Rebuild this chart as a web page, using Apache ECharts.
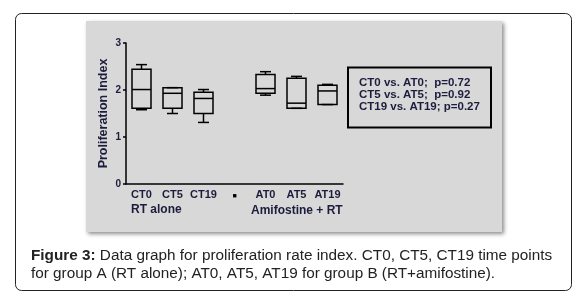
<!DOCTYPE html>
<html>
<head>
<meta charset="utf-8">
<script src="https://cdn.jsdelivr.net/npm/echarts@6/dist/echarts.min.js"></script>
<style>
html,body{margin:0;padding:0;background:#fff;}
#chart{width:582px;height:301px;}
</style>
</head>
<body>
<div id="chart"></div>
<script>
var categories = ['CT0', 'CT5', 'CT19', '', 'AT0', 'AT5', 'AT19'];
// [min, q1, median, q3, max]
var boxStats = [
  [1.58, 1.61, 2.01, 2.44, 2.54],
  [1.50, 1.61, 1.93, 2.05, 2.05],
  [1.31, 1.50, 1.82, 1.95, 2.01],
  null,
  [1.89, 1.93, 2.03, 2.33, 2.39],
  [1.61, 1.61, 1.72, 2.25, 2.29],
  [1.69, 1.69, 1.98, 2.10, 2.12]
];
var yTicks = [0, 1, 2, 3];
var pLines = ['CT0 vs. AT0;  p=0.72', 'CT5 vs. AT5;  p=0.92', 'CT19 vs. AT19; p=0.27'];

var navy = '#1c1c3c';
var boxData = [];
boxStats.forEach(function (s, i) {
  if (s) boxData.push([i].concat(s));
});

var chart = echarts.init(document.getElementById('chart'));
var option = {
  animation: false,
  backgroundColor: '#fff',
  grid: { left: 126, right: 239, top: 43, bottom: 117 },
  xAxis: {
    type: 'category',
    data: categories,
    axisLine: { lineStyle: { color: '#000', width: 1.5 } },
    axisTick: { alignWithLabel: true, length: 4, lineStyle: { color: '#000', width: 1.5 } },
    axisLabel: {
      color: navy, fontFamily: 'Arial, Liberation Sans', fontWeight: 'bold', fontSize: 11, margin: 5,
      interval: 0,
      formatter: function (v) { return v === '' ? '{sq|■}' : v; },
      rich: { sq: { fontSize: 7, color: '#000', padding: [4, 0, 0, 0] } }
    },
    splitLine: { show: false }
  },
  yAxis: {
    type: 'value',
    min: 0, max: 3, interval: 1,
    name: 'Proliferation Index',
    nameLocation: 'middle',
    nameGap: 16,
    nameTextStyle: { color: navy, fontFamily: 'Arial, Liberation Sans', fontWeight: 'bold', fontSize: 12.5 },
    axisLine: { show: true, lineStyle: { color: '#000', width: 1.5 } },
    axisTick: { show: true, length: 3, lineStyle: { color: '#000', width: 1.5 } },
    axisLabel: {
      color: navy, fontFamily: 'Arial, Liberation Sans', fontWeight: 'bold', fontSize: 10, margin: 5,
      formatter: function (v) { return yTicks.indexOf(v) >= 0 ? String(v) : ''; }
    },
    splitLine: { show: false }
  },
  graphic: [
    {
      type: 'rect', z: -10, silent: true,
      shape: { x: 15.5, y: 13.5, width: 556, height: 277, r: 6 },
      style: { fill: '#fff', stroke: '#222', lineWidth: 1 }
    },
    {
      type: 'rect', z: -9, silent: true,
      shape: { x: 86, y: 21, width: 416, height: 211 },
      style: { fill: '#d8d8d8', shadowBlur: 4, shadowOffsetX: 2, shadowOffsetY: 2, shadowColor: 'rgba(0,0,0,0.45)' }
    },
    {
      type: 'rect', z: 5, silent: true,
      shape: { x: 348, y: 67.5, width: 143, height: 60 },
      style: { fill: 'none', stroke: '#000', lineWidth: 2 }
    },
    {
      type: 'text', z: 6, silent: true,
      left: 359, top: 77,
      style: {
        text: pLines.join('\n'), fill: navy, lineHeight: 12,
        font: 'bold 11.5px Arial, Liberation Sans'
      }
    },
    {
      type: 'text', z: 6, silent: true, left: 131, top: 204,
      style: { text: 'RT alone', fill: navy, font: 'bold 12px Arial, Liberation Sans' }
    },
    {
      type: 'text', z: 6, silent: true, left: 251, top: 205,
      style: { text: 'Amifostine + RT', fill: navy, font: 'bold 12px Arial, Liberation Sans' }
    },
    {
      type: 'text', z: 6, silent: true, left: 31, top: 247,
      style: {
        text: '{b|Figure 3:} Data graph for proliferation rate index. CT0, CT5, CT19 time points\nfor group A (RT alone); AT0, AT5, AT19 for group B (RT+amifostine).',
        fill: '#222', lineHeight: 18,
        font: '15.3px Arial, Liberation Sans',
        rich: { b: { fontWeight: 'bold', fontSize: 15.3, fontFamily: 'Arial, Liberation Sans', fill: '#222' } }
      }
    }
  ],
  series: [{
    type: 'custom',
    data: boxData,
    encode: { x: 0, y: [1, 2, 3, 4, 5] },
    renderItem: function (params, api) {
      var x = api.value(0);
      var pMin = api.coord([x, api.value(1)]);
      var pQ1 = api.coord([x, api.value(2)]);
      var pMed = api.coord([x, api.value(3)]);
      var pQ3 = api.coord([x, api.value(4)]);
      var pMax = api.coord([x, api.value(5)]);
      var cx = pMed[0];
      var hw = 9.5, cw = 5.5;
      var st = { stroke: '#000', lineWidth: 1.5, fill: 'none' };
      return {
        type: 'group',
        children: [
          { type: 'line', shape: { x1: cx, y1: pMax[1], x2: cx, y2: pQ3[1] }, style: st },
          { type: 'line', shape: { x1: cx, y1: pQ1[1], x2: cx, y2: pMin[1] }, style: st },
          { type: 'line', shape: { x1: cx - cw, y1: pMax[1], x2: cx + cw, y2: pMax[1] }, style: st },
          { type: 'line', shape: { x1: cx - cw, y1: pMin[1], x2: cx + cw, y2: pMin[1] }, style: st },
          { type: 'rect', shape: { x: cx - hw, y: pQ3[1], width: hw * 2, height: pQ1[1] - pQ3[1] }, style: st },
          { type: 'line', shape: { x1: cx - hw, y1: pMed[1], x2: cx + hw, y2: pMed[1] }, style: st }
        ]
      };
    }
  }]
};
chart.setOption(option);
</script>
</body>
</html>
